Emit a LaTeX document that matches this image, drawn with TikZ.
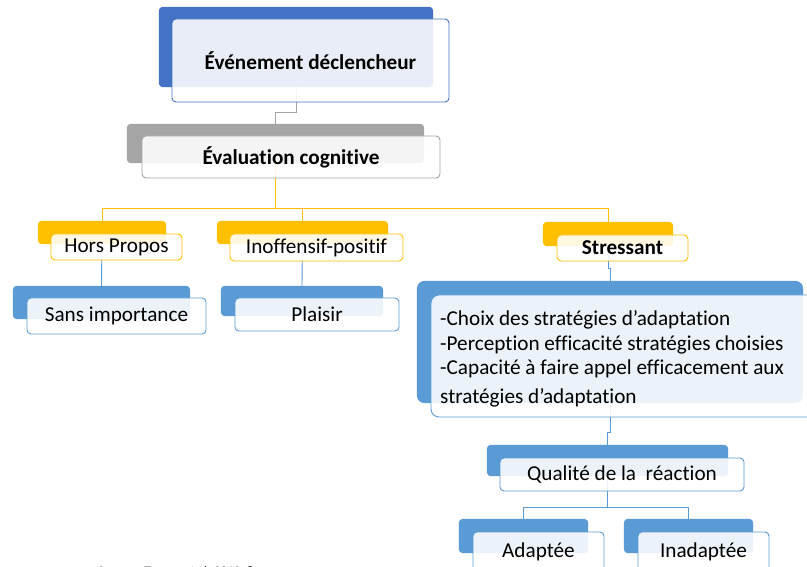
\documentclass[tikz,border=0pt]{standalone}
\usepackage{fontspec}
\setmainfont{Carlito}[Ligatures=NoCommon]
\definecolor{dblue}{HTML}{4472C4}
\definecolor{mblue}{HTML}{5B9BD5}
\definecolor{lgrey}{HTML}{A5A5A5}
\definecolor{gold}{HTML}{FFC000}
\begin{document}
\begin{tikzpicture}[x=1pt,y=-1pt,
  back/.style={draw=none, inner sep=0pt},
  front/.style={draw=#1, line width=0.9pt, rounded corners=4pt, fill=white, fill opacity=0.88, text opacity=1, inner sep=0pt, font=\fontsize{21.2}{25}\selectfont},
  conn/.style={draw=#1, line width=0.9pt},
  bf/.style={font=\fontsize{21.2}{25}\selectfont\bfseries}
]
\useasboundingbox (0,0) rectangle (807,567);
\clip (0,0) rectangle (807,567);
\fill[white] (0,0) rectangle (807,567);

% back boxes (positions)
\node[back, minimum width=274pt, minimum height=80pt] (b1) at (296,47) {};
\node[back, minimum width=297pt, minimum height=39pt] (b2) at (275.5,143.5) {};
\node[back, minimum width=128pt, minimum height=23pt] (b3) at (102,232.5) {};
\node[back, minimum width=171pt, minimum height=23pt] (b4) at (302.5,232.5) {};
\node[back, minimum width=130pt, minimum height=24pt] (b5) at (608,234) {};
\node[back, minimum width=177pt, minimum height=33pt] (b6) at (101.5,302.5) {};
\node[back, minimum width=162pt, minimum height=30pt] (b7) at (302,301) {};
\node[back, minimum width=386pt, minimum height=122pt] (b8) at (610,342) {};
\node[back, minimum width=241pt, minimum height=31pt] (b9) at (607.5,460.5) {};
\node[back, minimum width=129pt, minimum height=34pt] (b10) at (523.5,536) {};
\node[back, minimum width=129pt, minimum height=34pt] (b11) at (688.5,536) {};

% connectors (behind the boxes)
\coordinate (c1) at (296,112);
\draw[conn=lgrey] (b1.center) -- (c1) -| (b2.center);
\coordinate (c2) at (275.5,208);
\draw[conn=gold] (b2.center) -- (c2) -| (b3.center);
\draw[conn=gold] (c2) -| (b4.center);
\draw[conn=gold] (c2) -| (b5.center);
\draw[conn=mblue] (b3.center) -- (b6.north);
\draw[conn=mblue] (b4.center) -- (b7.north);
\coordinate (c5) at (608,268);
\draw[conn=mblue] (b5.center) -- (c5) -| (b8.north);
\coordinate (c8) at (610,432);
\draw[conn=mblue] (b8.center) -- (c8) -| (b9.north);
\coordinate (c9) at (607.5,507);
\draw[conn=mblue] (b9.center) -- (c9) -| (b10.north);
\draw[conn=mblue] (c9) -| (b11.north);

% back fills
\fill[dblue, rounded corners=4pt] (b1.north west) rectangle (b1.south east);
\fill[lgrey, rounded corners=4pt] (b2.north west) rectangle (b2.south east);
\fill[gold, rounded corners=4pt] (b3.north west) rectangle (b3.south east);
\fill[gold, rounded corners=4pt] (b4.north west) rectangle (b4.south east);
\fill[gold, rounded corners=4pt] (b5.north west) rectangle (b5.south east);
\fill[mblue, rounded corners=4pt] (b6.north west) rectangle (b6.south east);
\fill[mblue, rounded corners=4pt] (b7.north west) rectangle (b7.south east);
\fill[mblue, rounded corners=8pt] (b8.north west) rectangle (b8.south east);
\fill[mblue, rounded corners=4pt] (b9.north west) rectangle (b9.south east);
\fill[mblue, rounded corners=4pt] (b10.north west) rectangle (b10.south east);
\fill[mblue, rounded corners=4pt] (b11.north west) rectangle (b11.south east);

% front boxes
\node[front=dblue, minimum width=277pt, minimum height=83pt, bf] (f1) at (310.5,60.5) {Événement déclencheur};
\node[front=lgrey, minimum width=298pt, minimum height=42pt, bf] (f2) at (291,157) {Évaluation cognitive};
\node[front=gold, minimum width=131pt, minimum height=26pt] (f3) at (116.5,247) {Hors Propos};
\node[front=gold, minimum width=173pt, minimum height=27pt] (f4) at (316.5,247.5) {Inoffensif-positif};
\node[front=gold, minimum width=131pt, minimum height=26pt, bf] (f5) at (622.5,248) {Stressant};
\node[front=mblue, minimum width=179pt, minimum height=36pt] (f6) at (116.5,316) {Sans importance};
\node[front=mblue, minimum width=164pt, minimum height=33pt] (f7) at (317,314.5) {Plaisir};
\node[front=mblue, rounded corners=8pt, minimum width=400pt, minimum height=122pt] (f8) at (631,356) {};
\node[front=mblue, minimum width=244pt, minimum height=33pt] (f9) at (622,474.5) {Qualité de la~ réaction};
\node[front=mblue, minimum width=131pt, minimum height=40pt] (f10) at (538.5,552) {Adaptée};
\node[front=mblue, minimum width=131pt, minimum height=40pt] (f11) at (703.5,552) {Inadaptée};

\node[anchor=west, align=left, inner sep=0pt, font=\fontsize{21.2}{24.8}\selectfont] (t8) at (440,358.5)
  {-Choix des stratégies d’adaptation\\-Perception efficacité stratégies choisies\\-Capacité à faire appel efficacement aux\\[3.5pt]stratégies d’adaptation};

\node[anchor=base west, inner sep=0pt, font=\fontsize{13}{15}\selectfont] (src) at (98,575.5) {Source : Truong et al. 2012, 8};
\end{tikzpicture}
\end{document}
